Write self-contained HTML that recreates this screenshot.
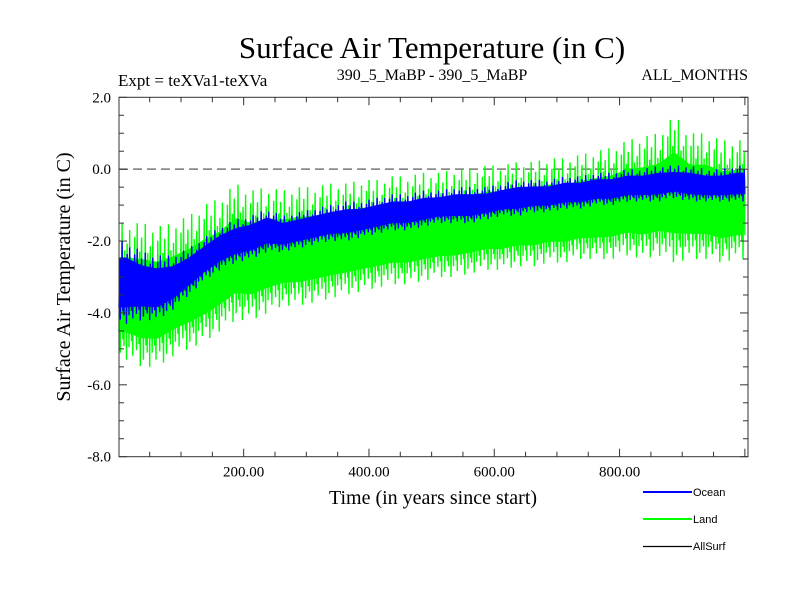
<!DOCTYPE html>
<html><head><meta charset="utf-8"><style>
body{margin:0;background:#fff;width:800px;height:600px;overflow:hidden}
svg{display:block}
</style></head><body>
<svg id="chart" width="800" height="600" font-family="Liberation Serif, serif">
<text x="432" y="58" text-anchor="middle" font-size="31">Surface Air Temperature (in C)</text>
<text x="118" y="86" font-size="17">Expt = teXVa1-teXVa</text>
<text x="432" y="80" text-anchor="middle" font-size="16">390_5_MaBP - 390_5_MaBP</text>
<text x="748" y="80" text-anchor="end" font-size="16">ALL_MONTHS</text>
<text transform="translate(70,277) rotate(-90)" text-anchor="middle" font-size="20">Surface Air Temperature (in C)</text>
<text x="433" y="504" text-anchor="middle" font-size="20">Time (in years since start)</text>
<g id="plot"></g>
<g font-family="Liberation Sans, sans-serif" font-size="11">
<line x1="643" y1="492" x2="692" y2="492" stroke="#00f" stroke-width="2"/>
<text x="693" y="496">Ocean</text>
<line x1="643" y1="519" x2="692" y2="519" stroke="#0f0" stroke-width="2"/>
<text x="693" y="523">Land</text>
<line x1="643" y1="546.5" x2="692" y2="546.5" stroke="#000" stroke-width="1.2"/>
<text x="693" y="550">AllSurf</text>
</g>
</svg>
<script>
const binYears = 25;
const oceanLo=[-4.3,-4.2,-4.2,-3.9,-3.5,-3.1,-2.8,-2.6,-2.5,-2.3,-2.3,-2.2,-2.1,-2.0,-2.0,-1.9,-1.8,-1.7,-1.7,-1.6,-1.5,-1.5,-1.5,-1.4,-1.3,-1.3,-1.2,-1.2,-1.1,-1.1,-1.0,-1.0,-0.9,-0.9,-0.9,-0.8,-0.9,-0.9,-0.9,-0.9];
const oceanHi=[-2.0,-2.3,-2.4,-2.4,-2.2,-1.9,-1.6,-1.4,-1.3,-1.1,-1.3,-1.2,-1.1,-1.0,-0.9,-0.9,-0.8,-0.7,-0.7,-0.6,-0.6,-0.5,-0.5,-0.5,-0.4,-0.3,-0.3,-0.3,-0.2,-0.2,-0.1,-0.1,0.0,0.0,0.1,0.1,0.1,0.0,0.0,0.1];
const landLo=[-5.3,-5.5,-5.5,-5.2,-5.0,-4.8,-4.5,-4.2,-4.2,-4.0,-3.8,-3.8,-3.7,-3.6,-3.5,-3.4,-3.3,-3.2,-3.2,-3.1,-3.0,-3.0,-2.9,-2.8,-2.8,-2.7,-2.7,-2.6,-2.6,-2.5,-2.5,-2.5,-2.4,-2.5,-2.4,-2.6,-2.5,-2.5,-2.6,-2.5];
const landHi=[-1.5,-1.5,-1.6,-1.5,-1.3,-1.0,-0.8,-0.4,-0.6,-0.5,-0.6,-0.5,-0.5,-0.4,-0.4,-0.3,-0.3,-0.2,-0.2,-0.1,-0.1,0.0,0.0,0.1,0.1,0.2,0.2,0.3,0.3,0.4,0.5,0.6,0.8,0.9,1.0,1.5,1.0,1.0,0.8,0.8];
const yTicks=[2.0,0.0,-2.0,-4.0,-6.0,-8.0];
const yTickLabels=["2.0","0.0","-2.0","-4.0","-6.0","-8.0"];
const xTicks=[200,400,600,800];
const xTickLabels=["200.00","400.00","600.00","800.00"];

const NS="http://www.w3.org/2000/svg";
const L=119,R=748,T=97.3,B=456.7,X0=1,X1=1005,Y0=-8,Y1=2;
const sx=v=>L+(v-X0)/(X1-X0)*(R-L);
const sy=v=>B-(v-Y0)/(Y1-Y0)*(B-T);
const g=document.getElementById('plot');
function mk(tag,attrs){const e=document.createElementNS(NS,tag);for(const k in attrs)e.setAttribute(k,attrs[k]);g.appendChild(e);return e;}
function interp(arr,year){const p=year/binYears-0.5;const i=Math.max(0,Math.min(arr.length-1,Math.floor(p)));const j=Math.min(arr.length-1,i+1);const f=Math.max(0,Math.min(1,p-i));return arr[i]*(1-f)+arr[j]*f;}
const pattern=[0.9,0.2,0.7,0.05,0.6,0.35,1,0.15,0.55,0.1,0.8,0.3,0.65,0,0.85,0.4,0.5,0.1,0.95,0.25,0.7,0.15,0.6,0.05,0.75,0.35,0.9,0.2,0.45,0.1,1,0.3,0.6,0.15,0.8,0.0,0.55];
function series(lo,hi){let pts=[];for(let t=1;t<=1000;t++){const a=interp(lo,t),b=interp(hi,t);const f=pattern[t%pattern.length];pts.push(sx(t).toFixed(1)+","+sy(a+(b-a)*f).toFixed(1));}return pts.join(" ");}
function band(lo,hi,f0,f1){let top=[],bot=[];for(let t=1;t<=1000;t+=5){const a=interp(lo,t),b=interp(hi,t);top.push(sx(t).toFixed(1)+","+sy(a+(b-a)*f1).toFixed(1));bot.unshift(sx(t).toFixed(1)+","+sy(a+(b-a)*f0).toFixed(1));}return top.concat(bot).join(" ");}

let z=mk('line',{x1:L,x2:R,y1:sy(0),y2:sy(0),stroke:'#777','stroke-width':1.5,'stroke-dasharray':'9,5'});


let landBand=mk('polygon',{points:band(landLo,landHi,0.2,0.75),fill:'#0f0'});


let land=mk('polyline',{points:series(landLo,landHi),fill:'none',stroke:'#0f0','stroke-width':1.4});


let oceanBand=mk('polygon',{points:band(oceanLo,oceanHi,0.2,0.8),fill:'#00f'});


let ocean=mk('polyline',{points:series(oceanLo,oceanHi),fill:'none',stroke:'#00f','stroke-width':1.4});


let fr=mk('rect',{x:L,y:T,width:R-L,height:B-T,fill:'none',stroke:'#333','stroke-width':1});


for(let v=-8;v<=2.001;v+=0.5){const y=sy(v);const major=Math.abs(v-Math.round(v/2)*2)<1e-6;const len=major?8:5;
 let t1=mk('line',{x1:L,x2:L+len,y1:y,y2:y,stroke:'#333'});
 let t2=mk('line',{x1:R-len,x2:R,y1:y,y2:y,stroke:'#333'});}
yTicks.forEach((v,i)=>{let t=mk('text',{x:L-8,y:sy(v)+5,'text-anchor':'end','font-size':15});t.textContent=yTickLabels[i];
 
 });
for(let v=50;v<X1;v+=50){const x=sx(v);const len=(v%200===0)?8:5;
 let t1=mk('line',{x1:x,x2:x,y1:B,y2:B-len,stroke:'#333'});
 let t2=mk('line',{x1:x,x2:x,y1:T,y2:T+len,stroke:'#333'});}
xTicks.forEach((v,i)=>{let t=mk('text',{x:sx(v),y:B+20,'text-anchor':'middle','font-size':15});t.textContent=xTickLabels[i];
 
 });
</script>
</body></html>
